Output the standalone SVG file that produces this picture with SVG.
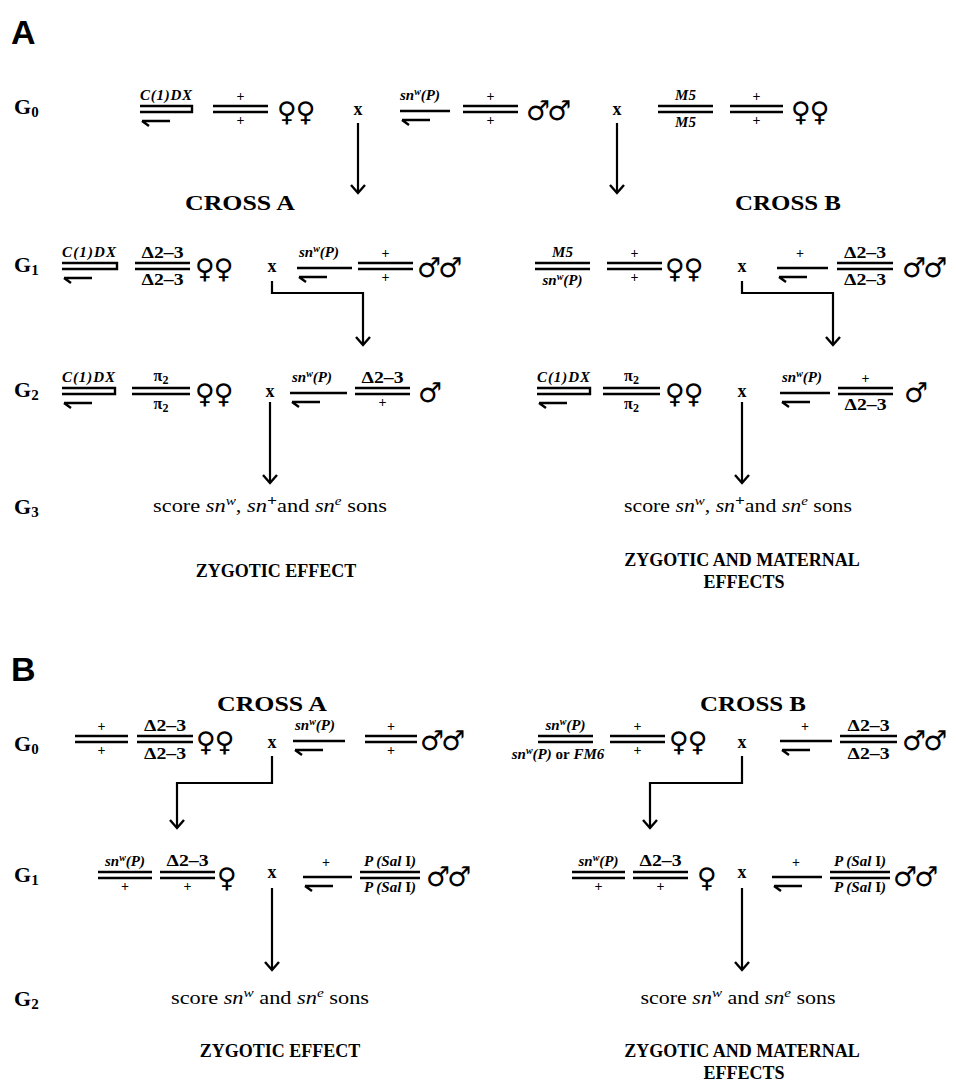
<svg xmlns="http://www.w3.org/2000/svg" width="956" height="1083" viewBox="0 0 956 1083">
<defs>
<marker id="ah" viewBox="0 0 20 20" refX="10" refY="10" markerWidth="20" markerHeight="20" markerUnits="userSpaceOnUse" orient="auto">
<path d="M2,3 L10,10 L2,17" fill="none" stroke="#000" stroke-width="2.4"/>
</marker>
</defs>
<style>
.ln{stroke:#000;stroke-width:2.4;fill:none}
.ar{stroke:#000;stroke-width:2.2;fill:none;marker-end:url(#ah)}
.pan{font-family:"Liberation Sans",Arial,sans-serif;font-weight:bold;font-size:34px}
.g{font-family:"Liberation Serif",serif;font-weight:bold;font-size:22px}
.gs{font-size:15px}
.cl{font-family:"Liberation Serif",serif;font-style:italic;font-weight:bold;font-size:15px}
.cm{font-family:"Liberation Serif",serif;font-style:italic;font-weight:bold;font-size:15px;text-anchor:middle}
.sup{font-size:10px}
.pl{font-family:"Liberation Serif",serif;font-weight:bold;font-size:14px;text-anchor:middle}
.dl{font-family:"Liberation Serif",serif;font-weight:bold;font-size:16px;text-anchor:middle}
.sym{font-family:"DejaVu Sans",sans-serif;font-weight:bold;font-size:27px}
.x{font-family:"Liberation Serif",serif;font-weight:bold;font-size:18px;text-anchor:middle}
.cr{font-family:"Liberation Serif",serif;font-weight:bold;font-size:22px;text-anchor:middle}
.sc{font-family:"Liberation Serif",serif;font-size:19px;text-anchor:middle}
.it{font-style:italic}
.ef{font-family:"Liberation Serif",serif;font-weight:bold;font-size:18px;text-anchor:middle}
</style>

<!-- Panel A -->
<text id="panelA" class="pan" x="11" y="44">A</text>
<g id="A-labels">
<text class="g" x="14" y="114">G<tspan class="gs" dy="3">0</tspan></text>
<text class="g" x="14" y="272">G<tspan class="gs" dy="3">1</tspan></text>
<text class="g" x="14" y="397">G<tspan class="gs" dy="3">2</tspan></text>
<text class="g" x="14" y="514">G<tspan class="gs" dy="3">3</tspan></text>
<text class="cr" x="240" y="210" textLength="110" lengthAdjust="spacingAndGlyphs">CROSS  A</text>
<text class="cr" x="788" y="210" textLength="106" lengthAdjust="spacingAndGlyphs">CROSS  B</text>
</g>

<!-- A G0 -->
<g id="A-G0-f1">
<text class="cl" x="140" y="100" textLength="52">C(1)DX</text>
<path class="ln" d="M140,106 H192 V112 H140 M142,121 H170 M142,121 L149,126"/>
<text class="pl" x="240.5" y="101">+</text>
<path class="ln" d="M213,106 H268 M213,112 H268"/>
<text class="pl" x="240.5" y="125">+</text>
<text class="sym" x="277" y="121" letter-spacing="-1">♀♀</text>
</g>
<text id="A-G0-x1" class="x" x="358" y="115">x</text>
<g id="A-G0-m1">
<text class="cl" x="400" y="100">sn<tspan class="sup" dy="-5">w</tspan><tspan dy="5">(P)</tspan></text>
<path class="ln" d="M400,111 H450 M402,120 H430 M402,120 L409,125"/>
<text class="pl" x="490.5" y="101">+</text>
<path class="ln" d="M463,106 H518 M463,112 H518"/>
<text class="pl" x="490.5" y="125">+</text>
<text class="sym" x="526" y="120" letter-spacing="-3">♂♂</text>
</g>
<text id="A-G0-x2" class="x" x="617" y="115">x</text>
<g id="A-G0-f2">
<text class="cm" x="685.5" y="100">M5</text>
<path class="ln" d="M658,106 H713 M658,112 H713"/>
<text class="cm" x="685.5" y="127">M5</text>
<text class="pl" x="756.5" y="101">+</text>
<path class="ln" d="M730,106 H783 M730,112 H783"/>
<text class="pl" x="756.5" y="125">+</text>
<text class="sym" x="791" y="121" letter-spacing="-1">♀♀</text>
</g>

<!-- A G1 -->
<g id="A-G1-f1">
<text class="cl" x="62" y="257" textLength="54">C(1)DX</text>
<path class="ln" d="M62,263 H117 V269 H62 M64,278 H92 M64,278 L71,283"/>
<text class="dl" x="162.5" y="258" textLength="42" lengthAdjust="spacingAndGlyphs">Δ2–3</text>
<path class="ln" d="M135,263 H190 M135,269 H190"/>
<text class="dl" x="162.5" y="285" textLength="42" lengthAdjust="spacingAndGlyphs">Δ2–3</text>
<text class="sym" x="195" y="278" letter-spacing="-1">♀♀</text>
</g>
<text id="A-G1-x1" class="x" x="272" y="272">x</text>
<g id="A-G1-m1">
<text class="cl" x="299" y="257">sn<tspan class="sup" dy="-5">w</tspan><tspan dy="5">(P)</tspan></text>
<path class="ln" d="M297,268 H352 M299,277 H327 M299,277 L306,282"/>
<text class="pl" x="385.5" y="258">+</text>
<path class="ln" d="M358,263 H413 M358,269 H413"/>
<text class="pl" x="385.5" y="282">+</text>
<text class="sym" x="417" y="277" letter-spacing="-3">♂♂</text>
</g>
<g id="A-G1-f2">
<text class="cm" x="562.5" y="257">M5</text>
<path class="ln" d="M535,263 H590 M535,269 H590"/>
<text class="cm" x="562.5" y="285">sn<tspan class="sup" dy="-5">w</tspan><tspan dy="5">(P)</tspan></text>
<text class="pl" x="634.5" y="258">+</text>
<path class="ln" d="M607,263 H662 M607,269 H662"/>
<text class="pl" x="634.5" y="282">+</text>
<text class="sym" x="665" y="278" letter-spacing="-1">♀♀</text>
</g>
<text id="A-G1-x2" class="x" x="742" y="272">x</text>
<g id="A-G1-m2">
<text class="pl" x="800" y="258">+</text>
<path class="ln" d="M777,268 H828 M779,277 H807 M779,277 L786,282"/>
<text class="dl" x="865" y="258" textLength="42" lengthAdjust="spacingAndGlyphs">Δ2–3</text>
<path class="ln" d="M837,263 H893 M837,269 H893"/>
<text class="dl" x="865" y="285" textLength="42" lengthAdjust="spacingAndGlyphs">Δ2–3</text>
<text class="sym" x="902" y="277" letter-spacing="-3">♂♂</text>
</g>

<!-- A G2 -->
<g id="A-G2-f1">
<text class="cl" x="62" y="382" textLength="53">C(1)DX</text>
<path class="ln" d="M62,388 H115 V394 H62 M64,403 H92 M64,403 L71,408"/>
<text class="dl" x="161" y="381">π<tspan font-size="12" dy="3">2</tspan></text>
<path class="ln" d="M132,388 H190 M132,394 H190"/>
<text class="dl" x="161" y="409">π<tspan font-size="12" dy="3">2</tspan></text>
<text class="sym" x="195" y="403" letter-spacing="-1">♀♀</text>
</g>
<text id="A-G2-x1" class="x" x="270" y="397">x</text>
<g id="A-G2-m1">
<text class="cl" x="292" y="382">sn<tspan class="sup" dy="-5">w</tspan><tspan dy="5">(P)</tspan></text>
<path class="ln" d="M290,393 H347 M292,402 H320 M292,402 L299,407"/>
<text class="dl" x="382.5" y="383" textLength="42" lengthAdjust="spacingAndGlyphs">Δ2–3</text>
<path class="ln" d="M355,388 H410 M355,394 H410"/>
<text class="pl" x="382.5" y="407">+</text>
<text class="sym" x="418" y="402">♂</text>
</g>
<g id="A-G2-f2">
<text class="cl" x="537" y="382" textLength="53">C(1)DX</text>
<path class="ln" d="M537,388 H590 V394 H537 M539,403 H567 M539,403 L546,408"/>
<text class="dl" x="631.5" y="381">π<tspan font-size="12" dy="3">2</tspan></text>
<path class="ln" d="M603,388 H660 M603,394 H660"/>
<text class="dl" x="631.5" y="409">π<tspan font-size="12" dy="3">2</tspan></text>
<text class="sym" x="665" y="403" letter-spacing="-1">♀♀</text>
</g>
<text id="A-G2-x2" class="x" x="742" y="397">x</text>
<g id="A-G2-m2">
<text class="cl" x="782" y="382">sn<tspan class="sup" dy="-5">w</tspan><tspan dy="5">(P)</tspan></text>
<path class="ln" d="M780,393 H830 M782,402 H810 M782,402 L789,407"/>
<text class="pl" x="865.5" y="383">+</text>
<path class="ln" d="M838,388 H893 M838,394 H893"/>
<text class="dl" x="865.5" y="410" textLength="42" lengthAdjust="spacingAndGlyphs">Δ2–3</text>
<text class="sym" x="904" y="402">♂</text>
</g>

<!-- A G3 -->
<g id="A-G3-score1">
<text class="sc" x="270" y="512" textLength="234" lengthAdjust="spacingAndGlyphs">score <tspan class="it">sn</tspan><tspan class="it" font-size="13" dy="-7">w</tspan><tspan dy="7">, </tspan><tspan class="it">sn</tspan><tspan font-weight="bold" font-size="15" dy="-7">+</tspan><tspan dy="7">and </tspan><tspan class="it">sn</tspan><tspan class="it" font-size="13" dy="-7">e</tspan><tspan dy="7"> sons</tspan></text>
</g>
<g id="A-G3-score2">
<text class="sc" x="738" y="512" textLength="228" lengthAdjust="spacingAndGlyphs">score <tspan class="it">sn</tspan><tspan class="it" font-size="13" dy="-7">w</tspan><tspan dy="7">, </tspan><tspan class="it">sn</tspan><tspan font-weight="bold" font-size="15" dy="-7">+</tspan><tspan dy="7">and </tspan><tspan class="it">sn</tspan><tspan class="it" font-size="13" dy="-7">e</tspan><tspan dy="7"> sons</tspan></text>
</g>
<g id="A-effects">
<text class="ef" x="276" y="577">ZYGOTIC EFFECT</text>
<text class="ef" x="742" y="566">ZYGOTIC AND MATERNAL</text>
<text class="ef" x="744" y="588">EFFECTS</text>
</g>

<!-- Panel B -->
<text id="panelB" class="pan" x="11" y="681">B</text>
<g id="B-labels">
<text class="g" x="14" y="751">G<tspan class="gs" dy="3">0</tspan></text>
<text class="g" x="14" y="882">G<tspan class="gs" dy="3">1</tspan></text>
<text class="g" x="14" y="1006">G<tspan class="gs" dy="3">2</tspan></text>
<text class="cr" x="272" y="711" textLength="110" lengthAdjust="spacingAndGlyphs">CROSS  A</text>
<text class="cr" x="753" y="711" textLength="106" lengthAdjust="spacingAndGlyphs">CROSS  B</text>
</g>

<!-- B G0 -->
<g id="B-G0-f1">
<text class="pl" x="101.5" y="731">+</text>
<path class="ln" d="M75,736 H128 M75,742 H128"/>
<text class="pl" x="101.5" y="755">+</text>
<text class="dl" x="165" y="731" textLength="42" lengthAdjust="spacingAndGlyphs">Δ2–3</text>
<path class="ln" d="M137,736 H193 M137,742 H193"/>
<text class="dl" x="165" y="759" textLength="42" lengthAdjust="spacingAndGlyphs">Δ2–3</text>
<text class="sym" x="196" y="751" letter-spacing="-1">♀♀</text>
</g>
<text id="B-G0-x1" class="x" x="272" y="748">x</text>
<g id="B-G0-m1">
<text class="cl" x="295" y="730">sn<tspan class="sup" dy="-5">w</tspan><tspan dy="5">(P)</tspan></text>
<path class="ln" d="M293,741 H345 M295,750 H323 M295,750 L302,755"/>
<text class="pl" x="391" y="731">+</text>
<path class="ln" d="M365,736 H417 M365,742 H417"/>
<text class="pl" x="391" y="755">+</text>
<text class="sym" x="420" y="750" letter-spacing="-3">♂♂</text>
</g>
<g id="B-G0-f2">
<text class="cm" x="565.5" y="730">sn<tspan class="sup" dy="-5">w</tspan><tspan dy="5">(P)</tspan></text>
<path class="ln" d="M538,736 H593 M538,742 H593"/>
<text class="cm" x="558" y="759">sn<tspan class="sup" dy="-5">w</tspan><tspan dy="5">(P) </tspan><tspan font-style="normal">or</tspan> FM6</text>
<text class="pl" x="637.5" y="731">+</text>
<path class="ln" d="M610,736 H665 M610,742 H665"/>
<text class="pl" x="637.5" y="755">+</text>
<text class="sym" x="669" y="751" letter-spacing="-1">♀♀</text>
</g>
<text id="B-G0-x2" class="x" x="742" y="748">x</text>
<g id="B-G0-m2">
<text class="pl" x="805" y="731">+</text>
<path class="ln" d="M780,741 H832 M782,750 H810 M782,750 L789,755"/>
<text class="dl" x="868.5" y="731" textLength="42" lengthAdjust="spacingAndGlyphs">Δ2–3</text>
<path class="ln" d="M840,736 H897 M840,742 H897"/>
<text class="dl" x="868.5" y="759" textLength="42" lengthAdjust="spacingAndGlyphs">Δ2–3</text>
<text class="sym" x="902" y="750" letter-spacing="-3">♂♂</text>
</g>

<!-- B G1 -->
<g id="B-G1-f1">
<text class="cm" x="125" y="866">sn<tspan class="sup" dy="-5">w</tspan><tspan dy="5">(P)</tspan></text>
<path class="ln" d="M98,872 H152 M98,878 H152"/>
<text class="pl" x="125" y="891">+</text>
<text class="dl" x="187.5" y="866" textLength="42" lengthAdjust="spacingAndGlyphs">Δ2–3</text>
<path class="ln" d="M160,872 H215 M160,878 H215"/>
<text class="pl" x="187.5" y="891">+</text>
<text class="sym" x="217" y="887">♀</text>
</g>
<text id="B-G1-x1" class="x" x="272" y="878">x</text>
<g id="B-G1-m1">
<text class="pl" x="326" y="867">+</text>
<path class="ln" d="M303,877 H352 M305,886 H333 M305,886 L312,891"/>
<text class="cm" x="390" y="866">P (Sal <tspan font-style="normal">I</tspan>)</text>
<path class="ln" d="M360,872 H420 M360,878 H420"/>
<text class="cm" x="390" y="892">P (Sal <tspan font-style="normal">I</tspan>)</text>
<text class="sym" x="426" y="886" letter-spacing="-3">♂♂</text>
</g>
<g id="B-G1-f2">
<text class="cm" x="598.5" y="866">sn<tspan class="sup" dy="-5">w</tspan><tspan dy="5">(P)</tspan></text>
<path class="ln" d="M572,872 H625 M572,878 H625"/>
<text class="pl" x="598.5" y="891">+</text>
<text class="dl" x="660.5" y="866" textLength="42" lengthAdjust="spacingAndGlyphs">Δ2–3</text>
<path class="ln" d="M633,872 H688 M633,878 H688"/>
<text class="pl" x="660.5" y="891">+</text>
<text class="sym" x="697" y="887">♀</text>
</g>
<text id="B-G1-x2" class="x" x="742" y="878">x</text>
<g id="B-G1-m2">
<text class="pl" x="796" y="867">+</text>
<path class="ln" d="M772,877 H822 M774,886 H802 M774,886 L781,891"/>
<text class="cm" x="860" y="866">P (Sal <tspan font-style="normal">I</tspan>)</text>
<path class="ln" d="M830,872 H890 M830,878 H890"/>
<text class="cm" x="860" y="892">P (Sal <tspan font-style="normal">I</tspan>)</text>
<text class="sym" x="893" y="886" letter-spacing="-3">♂♂</text>
</g>

<!-- B G2 -->
<g id="B-G2-score1">
<text class="sc" x="270" y="1004" textLength="198" lengthAdjust="spacingAndGlyphs">score <tspan class="it">sn</tspan><tspan class="it" font-size="13" dy="-7">w</tspan><tspan dy="7"> and </tspan><tspan class="it">sn</tspan><tspan class="it" font-size="13" dy="-7">e</tspan><tspan dy="7">  sons</tspan></text>
</g>
<g id="B-G2-score2">
<text class="sc" x="738" y="1004" textLength="195" lengthAdjust="spacingAndGlyphs">score <tspan class="it">sn</tspan><tspan class="it" font-size="13" dy="-7">w</tspan><tspan dy="7"> and </tspan><tspan class="it">sn</tspan><tspan class="it" font-size="13" dy="-7">e</tspan><tspan dy="7"> sons</tspan></text>
</g>
<g id="B-effects">
<text class="ef" x="280" y="1057">ZYGOTIC EFFECT</text>
<text class="ef" x="742" y="1057">ZYGOTIC AND MATERNAL</text>
<text class="ef" x="744" y="1079">EFFECTS</text>
</g>

<!-- connectors -->
<g id="connectors">
<path class="ar" d="M358,123 V193"/>
<path class="ar" d="M617,123 V193"/>
<path class="ar" d="M272,281 V293 H363 V345"/>
<path class="ar" d="M742,281 V293 H833 V345"/>
<path class="ar" d="M270,402 V483"/>
<path class="ar" d="M742,402 V483"/>
<path class="ar" d="M272,756 V783 H177 V828"/>
<path class="ar" d="M742,756 V783 H650 V828"/>
<path class="ar" d="M272,888 V970"/>
<path class="ar" d="M742,888 V970"/>
</g>
</svg>
